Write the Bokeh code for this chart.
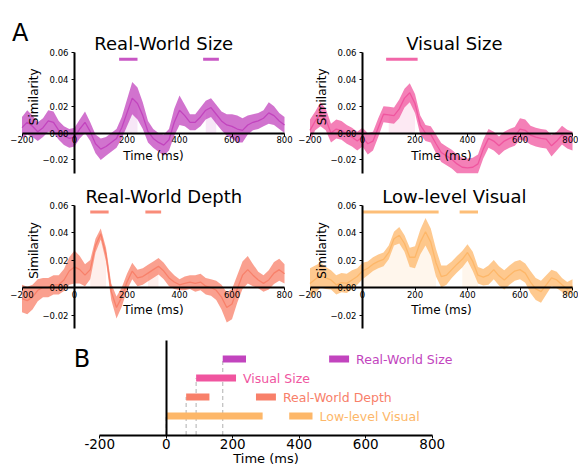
import numpy as np
from bokeh.plotting import figure
from bokeh.layouts import column, row
from bokeh.models import Label, FixedTicker, CustomJSTickFormatter, Range1d
from bokeh.embed import file_html
from bokeh.resources import INLINE

# ---------------- data ----------------
times = list(range(-200, 801, 20))

rws_mean = [0.004, 0.008, 0.005, 0.001, 0.004, 0.009, 0.008, 0.002, -0.002, -0.004,
            -0.003, 0.003, 0.008, 0.001, -0.008, -0.012, -0.010, -0.007, -0.004, 0.004,
            0.015, 0.026, 0.022, 0.013, 0.001, -0.004, -0.007, -0.009, -0.005, 0.008,
            0.017, 0.013, 0.008, 0.008, 0.012, 0.017, 0.019, 0.014, 0.009, 0.006,
            0.005, 0.003, 0.002, 0.006, 0.008, 0.009, 0.011, 0.015, 0.013, 0.009,
            0.006]
rws_err = [0.008, 0.009, 0.008, 0.007, 0.007, 0.008, 0.008, 0.007, 0.007, 0.007,
           0.007, 0.007, 0.008, 0.007, 0.007, 0.008, 0.007, 0.007, 0.007, 0.008,
           0.010, 0.012, 0.012, 0.010, 0.008, 0.007, 0.007, 0.008, 0.008, 0.010,
           0.011, 0.008, 0.006, 0.006, 0.007, 0.007, 0.007, 0.007, 0.007, 0.008,
           0.009, 0.010, 0.009, 0.007, 0.006, 0.006, 0.006, 0.008, 0.007, 0.006,
           0.006]

vs_mean = [0.002, 0.009, 0.014, 0.010, 0.000, 0.003, 0.002, -0.001, -0.003, -0.006,
           -0.003, -0.008, -0.006, 0.004, 0.014, 0.0135, 0.013, 0.018, 0.026, 0.030,
           0.022, 0.006, 0.000, -0.001, -0.008, -0.0145, -0.017, -0.0195, -0.023, -0.0255,
           -0.026, -0.0255, -0.023, -0.012, -0.004, -0.006, -0.0095, -0.006, -0.004, -0.0025,
           0.003, 0.002, -0.0015, -0.003, -0.004, -0.0045, -0.0095, -0.006, -0.0015, -0.0045,
           -0.006]
vs_err = [0.008, 0.007, 0.009, 0.008, 0.007, 0.007, 0.007, 0.007, 0.007, 0.007,
          0.007, 0.008, 0.007, 0.007, 0.006, 0.006, 0.006, 0.007, 0.007, 0.007,
          0.007, 0.007, 0.006, 0.006, 0.007, 0.007, 0.007, 0.007, 0.007, 0.007,
          0.007, 0.007, 0.007, 0.007, 0.007, 0.007, 0.007, 0.007, 0.007, 0.007,
          0.008, 0.008, 0.007, 0.007, 0.007, 0.007, 0.008, 0.007, 0.007, 0.007,
          0.007]

rwd_mean = [-0.008, -0.0095, -0.007, -0.002, 0.000, 0.000, 0.002, 0.002, 0.0055, 0.012,
            0.015, 0.013, 0.009, 0.013, 0.0305, 0.039, 0.024, -0.003, -0.0145, -0.007,
            0.004, 0.012, 0.007, 0.008, 0.0105, 0.013, 0.0155, 0.012, 0.007, 0.004,
            0.002, 0.003, 0.004, 0.003, 0.004, 0.001, 0.000, -0.002, -0.007, -0.0145,
            -0.012, -0.001, 0.009, 0.013, 0.009, 0.0055, 0.003, 0.0055, 0.0105, 0.013,
            0.010]
rwd_err = [0.010, 0.010, 0.009, 0.008, 0.007, 0.007, 0.007, 0.007, 0.008, 0.010,
           0.012, 0.010, 0.008, 0.007, 0.005, 0.004, 0.005, 0.006, 0.008, 0.007,
           0.006, 0.006, 0.006, 0.006, 0.006, 0.006, 0.006, 0.006, 0.006, 0.005,
           0.004, 0.005, 0.005, 0.006, 0.006, 0.006, 0.006, 0.007, 0.009, 0.011,
           0.011, 0.010, 0.010, 0.010, 0.008, 0.006, 0.006, 0.007, 0.008, 0.008,
           0.007]

llv_mean = [0.003, 0.006, 0.009, 0.007, 0.0055, 0.002, 0.0035, 0.003, 0.0055, 0.008,
            0.012, 0.014, 0.017, 0.019, 0.0205, 0.0255, 0.0355, 0.038, 0.032, 0.022,
            0.022, 0.033, 0.0405, 0.033, 0.018, 0.008, 0.009, 0.013, 0.017, 0.0205,
            0.0255, 0.019, 0.009, 0.0075, 0.009, 0.013, 0.0085, 0.0055, 0.009, 0.012,
            0.013, 0.0105, 0.004, -0.001, -0.003, 0.002, 0.007, 0.0055, 0.002, -0.001,
            0.001]
llv_err = [0.011, 0.010, 0.009, 0.008, 0.007, 0.007, 0.007, 0.007, 0.007, 0.006,
           0.006, 0.005, 0.005, 0.005, 0.005, 0.005, 0.005, 0.006, 0.006, 0.007,
           0.008, 0.009, 0.010, 0.010, 0.010, 0.008, 0.007, 0.006, 0.006, 0.006,
           0.006, 0.007, 0.006, 0.006, 0.007, 0.007, 0.007, 0.007, 0.007, 0.007,
           0.007, 0.007, 0.008, 0.008, 0.008, 0.007, 0.006, 0.006, 0.005, 0.005,
           0.005]

names = ["Real-World Size", "Visual Size", "Real-World Depth", "Low-level Visual"]
colors = ["#C244BE", "#F0559F", "#F8806A", "#FDB769"]

# significant windows (ms)
rws_sig_start = [170, 490]
rws_sig_end = [240, 550]
vs_sig_start = [90]
vs_sig_end = [210]
rwd_sig_start = [60, 270]
rwd_sig_end = [130, 330]
llv_sig_start = [0, 370]
llv_sig_end = [290, 440]

x_ticks = [-200, 0, 200, 400, 600, 800]
y_ticks = [-0.02, 0.0, 0.02, 0.04, 0.06]

X_LIM = (-200, 800)
Y_LIM = (-0.03, 0.06)
B_Y_LIM = (0, 5)

FONT = "DejaVu Sans"
SIG_Y = 0.055

minus_fmt_y = CustomJSTickFormatter(code="return (tick < 0 ? '\\u2212' : '') + Math.abs(tick).toFixed(2);")
minus_fmt_x = CustomJSTickFormatter(code="return (tick < 0 ? '\\u2212' : '') + Math.abs(tick).toFixed(0);")
hyphen_fmt_x = CustomJSTickFormatter(code="return tick.toFixed(0);")


def full_range(lim, p_lo, p_hi, size, inverted=False):
    """Range so that lim[0] lands at pixel p_lo and lim[1] at pixel p_hi on a canvas of `size` px
    (pixels measured from left, or from top when inverted)."""
    lo, hi = lim
    per_px = (hi - lo) / (p_hi - p_lo) if not inverted else (hi - lo) / (p_lo - p_hi)
    if not inverted:
        return Range1d(lo - p_lo * per_px, hi + (size - p_hi) * per_px)
    return Range1d(lo - (size - p_lo) * per_px, hi + p_hi * per_px)


def style_axis(ax, size):
    ax.axis_line_width = 2
    ax.axis_line_color = "black"
    ax.major_tick_out = 3
    ax.major_tick_in = 0
    ax.major_tick_line_color = "black"
    ax.minor_tick_line_color = None
    ax.major_label_text_font = FONT
    ax.major_label_text_font_size = size
    ax.major_label_text_color = "black"
    ax.major_label_standoff = 0


def base_fig(w, h, xr, yr):
    p = figure(width=w, height=h, x_range=xr, y_range=yr,
               output_backend="svg", toolbar_location=None,
               min_border_left=0, min_border_right=0, min_border_top=0, min_border_bottom=0)
    p.outline_line_color = None
    p.grid.visible = False
    p.background_fill_color = "white"
    p.border_fill_color = "white"
    return p


def panel(mean, err, starts, ends, color, title, w, h, px0, px1, py_top, py_bot, title_x, letter=None):
    xr = full_range(X_LIM, px0, px1, w)
    yr = full_range(Y_LIM, py_bot, py_top, h, inverted=True)
    p = base_fig(w, h, xr, yr)

    t = np.array(times, dtype=float)
    m = np.array(mean)
    e = np.array(err)
    for s, en in zip(starts, ends):
        mask = (t >= s) & (t <= en)
        p.varea(x=t[mask], y1=np.zeros(int(mask.sum())), y2=m[mask],
                fill_color=color, fill_alpha=0.13)
    lower = np.maximum(m - e, Y_LIM[0])
    upper = np.minimum(m + e, Y_LIM[1])
    p.varea(x=t, y1=lower, y2=upper, fill_color=color, fill_alpha=0.75)
    p.line(t, np.clip(m, Y_LIM[0], Y_LIM[1]), line_color=color, line_width=1.3)
    p.segment(x0=starts, y0=[SIG_Y] * len(starts), x1=ends, y1=[SIG_Y] * len(starts),
              line_color=color, line_width=3, line_alpha=0.9)

    p.xaxis.fixed_location = 0
    p.yaxis.fixed_location = 0
    p.xaxis.bounds = X_LIM
    p.yaxis.bounds = Y_LIM
    p.xaxis.ticker = FixedTicker(ticks=x_ticks)
    p.yaxis.ticker = FixedTicker(ticks=y_ticks)
    p.xaxis.formatter = minus_fmt_x
    p.yaxis.formatter = minus_fmt_y
    style_axis(p.xaxis[0], "8.5px")
    style_axis(p.yaxis[0], "8.5px")
    p.yaxis.major_label_standoff = 3
    p.xaxis.axis_label = "Time (ms)"
    p.xaxis.axis_label_text_font = FONT
    p.xaxis.axis_label_text_font_size = "12px"
    p.xaxis.axis_label_text_font_style = "normal"
    p.xaxis.axis_label_text_color = "black"
    p.xaxis.axis_label_standoff = 2

    p.add_layout(Label(x=title_x, y=Y_LIM[1], y_offset=9, text=title, text_align="center",
                       text_baseline="alphabetic", text_font=FONT, text_font_size="18px",
                       text_color="black"))
    p.add_layout(Label(x=0, y=0.027, x_offset=-41, text="Similarity", angle=90, angle_units="deg",
                       text_align="center", text_baseline="middle", text_font=FONT,
                       text_font_size="12px", text_color="black"))
    if letter:
        p.add_layout(Label(x=X_LIM[0], y=Y_LIM[1], x_offset=-10, y_offset=20, text=letter,
                           text_baseline="alphabetic", text_font=FONT, text_font_size="24px",
                           text_color="black"))
    return p


a1 = panel(rws_mean, rws_err, rws_sig_start, rws_sig_end, colors[0], names[0],
           297, 180, 21.5, 284, 52, 172.8, 340, letter="A")
a2 = panel(vs_mean, vs_err, vs_sig_start, vs_sig_end, colors[1], names[1],
           281, 180, 12.5, 275, 52, 172.8, 350)
a3 = panel(rwd_mean, rwd_err, rwd_sig_start, rwd_sig_end, colors[2], names[2],
           297, 153, 21.5, 284, 24.5, 148.3, 340)
a4 = panel(llv_mean, llv_err, llv_sig_start, llv_sig_end, colors[3], names[3],
           281, 153, 12.5, 275, 24.5, 148.3, 350)

# ---------------- panel B ----------------
BW, BH = 578, 137
b = base_fig(BW, BH, full_range(X_LIM, 99.2, 431.7, BW),
             full_range(B_Y_LIM, 101.5, 6.5, BH, inverted=True))

all_starts = [rws_sig_start, vs_sig_start, rwd_sig_start, llv_sig_start]
all_ends = [rws_sig_end, vs_sig_end, rwd_sig_end, llv_sig_end]
n_series = len(names)
rows_y = [n_series - i for i in range(n_series)]

onsets = [s[0] for s in all_starts]
b.segment(x0=onsets, y0=[0] * n_series, x1=onsets, y1=rows_y,
          line_color="#BDBDBD", line_width=1.2, line_dash="4 3")

for i in range(n_series):
    yy = rows_y[i]
    b.hbar(y=[yy] * len(all_starts[i]), left=all_starts[i], right=all_ends[i], height=0.37,
           fill_color=colors[i], line_color=None)
    b.add_layout(Label(x=all_ends[i][-1], y=yy, x_offset=7, text=names[i], text_color=colors[i],
                       text_baseline="middle", text_font=FONT, text_font_size="12.5px"))

b.xaxis.fixed_location = 0
b.yaxis.fixed_location = 0
b.xaxis.bounds = X_LIM
b.yaxis.bounds = B_Y_LIM
b.xaxis.ticker = FixedTicker(ticks=x_ticks)
b.xaxis.formatter = hyphen_fmt_x
b.yaxis.ticker = FixedTicker(ticks=[])
style_axis(b.xaxis[0], "13.5px")
style_axis(b.yaxis[0], "13.5px")
b.xaxis.major_label_standoff = 1
b.yaxis.major_tick_line_color = None
b.yaxis.major_label_text_color = None
b.xaxis.axis_label = "Time (ms)"
b.xaxis.axis_label_text_font = FONT
b.xaxis.axis_label_text_font_size = "13px"
b.xaxis.axis_label_text_font_style = "normal"
b.xaxis.axis_label_text_color = "black"
b.xaxis.axis_label_standoff = -2
b.add_layout(Label(x=X_LIM[0], y=B_Y_LIM[1], x_offset=-26, y_offset=-18.5, text="B",
                   text_baseline="alphabetic", text_font=FONT, text_font_size="24px",
                   text_color="black"))

layout = column(row(a1, a2), row(a3, a4), b)
open("out.html", "w").write(file_html(layout, INLINE))
